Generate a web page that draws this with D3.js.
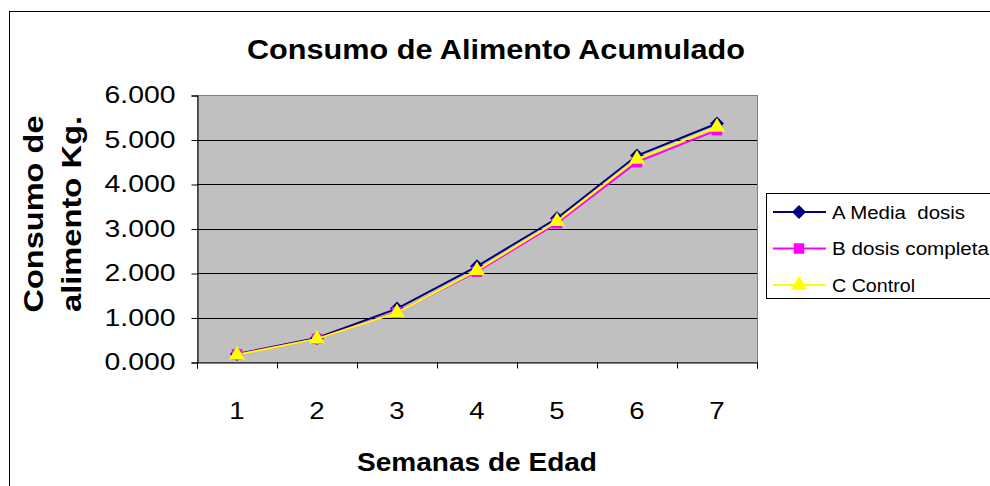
<!DOCTYPE html>
<html>
<head>
<meta charset="utf-8">
<script src="https://cdn.jsdelivr.net/npm/d3@7"></script>
<style>
  html, body { margin: 0; padding: 0; background: #fff; }
  svg { display: block; font-family: "Liberation Sans", Arial, sans-serif; }
  text { white-space: pre; }
</style>
</head>
<body>
<svg id="chart" width="990" height="486"></svg>
<script>
// weeks of age and accumulated feed (kg) per treatment
const weeks = [1, 2, 3, 4, 5, 6, 7];
const mediaDosis = [0.18, 0.54, 1.20, 2.15, 3.23, 4.64, 5.36];
const dosisCompleta = [0.17, 0.52, 1.12, 2.03, 3.12, 4.49, 5.21];
const control = [0.16, 0.52, 1.11, 2.06, 3.16, 4.56, 5.28];
const seriesNames = ["A Media  dosis", "B dosis completa", "C Control"];
const yTicks = [0, 1, 2, 3, 4, 5, 6];

const MARGIN = { LEFT: 197, RIGHT: 757, TOP: 95, BOTTOM: 362 };

const series = [
  { name: seriesNames[0], values: mediaDosis, color: "#000080", marker: "diamond" },
  { name: seriesNames[1], values: dosisCompleta, color: "#ff00ff", marker: "square" },
  { name: seriesNames[2], values: control, color: "#ffff00", marker: "triangle" }
];

const svg = d3.select("#chart");

// outer chart border (runs off the right and bottom edges)
svg.append("rect")
  .attr("x", 9.5).attr("y", 11.5)
  .attr("width", 1000).attr("height", 500)
  .attr("fill", "#fff").attr("stroke", "#000");

const x = d3.scaleLinear()
  .domain([0.5, 7.5])
  .range([MARGIN.LEFT, MARGIN.RIGHT]);
const y = d3.scaleLinear()
  .domain([0, 6])
  .range([MARGIN.BOTTOM, MARGIN.TOP]);

// plot area
svg.append("rect")
  .attr("x", MARGIN.LEFT + 0.5).attr("y", MARGIN.TOP + 0.5)
  .attr("width", MARGIN.RIGHT - MARGIN.LEFT).attr("height", MARGIN.BOTTOM - MARGIN.TOP)
  .attr("fill", "#c0c0c0").attr("stroke", "#808080");

svg.append("g")
  .selectAll("line")
  .data(yTicks.filter(d => d > 0 && d < 6))
  .enter()
  .append("line")
  .attr("x1", MARGIN.LEFT).attr("x2", MARGIN.RIGHT)
  .attr("y1", d => Math.round(y(d)) + 0.5).attr("y2", d => Math.round(y(d)) + 0.5)
  .attr("stroke", "#000");

// y axis
const yAxis = svg.append("g")
  .attr("transform", `translate(${MARGIN.LEFT + 0.5},0.5)`)
  .call(d3.axisLeft(y).tickValues(yTicks).tickSize(6).tickPadding(16).tickFormat(d3.format(".3f")));
yAxis.select(".domain").attr("stroke", "#000");
yAxis.selectAll("text")
  .attr("font-size", 23).attr("fill", "#000")
  .attr("font-family", "Liberation Sans, Arial, sans-serif")
  .attr("textLength", 71).attr("lengthAdjust", "spacingAndGlyphs");

// x axis: ticks on category boundaries, labels at centres
const xAxis = svg.append("g")
  .attr("transform", `translate(0,${MARGIN.BOTTOM + 0.5})`)
  .call(d3.axisBottom(x).tickValues(d3.range(0.5, 8, 1)).tickSize(6).tickFormat(""));
xAxis.select(".domain").attr("stroke", "#000");

svg.append("g")
  .selectAll("text")
  .data(weeks)
  .enter()
  .append("text")
  .attr("transform", d => `translate(${x(d)},419) scale(1.2,1)`)
  .attr("text-anchor", "middle")
  .attr("font-size", 23)
  .text(d => d);

// series lines and markers
const line = d3.line()
  .x((d, i) => x(weeks[i]))
  .y(d => y(d));

function markerPath(type) {
  if (type === "diamond") return "M0,-7L7,0L0,7L-7,0Z";
  if (type === "square") return d3.symbol(d3.symbolSquare, 110)();
  return d3.symbol(d3.symbolTriangle, 110)();
}

series.forEach(s => {
  const g = svg.append("g");
  g.append("path")
    .datum(s.values)
    .attr("d", line)
    .attr("fill", "none")
    .attr("stroke", s.color)
    .attr("stroke-width", 2);
  g.selectAll("path.mark")
    .data(s.values)
    .enter()
    .append("path")
    .attr("class", "mark")
    .attr("d", markerPath(s.marker))
    .attr("transform", (d, i) => `translate(${x(weeks[i])},${y(d)})`)
    .attr("fill", s.color);
});

// title
svg.append("text")
  .attr("x", 496).attr("y", 59)
  .attr("text-anchor", "middle")
  .attr("font-size", 27).attr("font-weight", "bold")
  .attr("textLength", 498).attr("lengthAdjust", "spacingAndGlyphs")
  .text("Consumo de Alimento Acumulado");

// axis titles
svg.append("text")
  .attr("x", 477).attr("y", 471)
  .attr("text-anchor", "middle")
  .attr("font-size", 26).attr("font-weight", "bold")
  .attr("textLength", 240).attr("lengthAdjust", "spacingAndGlyphs")
  .text("Semanas de Edad");

const yTitle = [["Consumo de", 43, 197], ["alimento Kg.", 81, 196]];
yTitle.forEach(([t, bx, len]) => {
  svg.append("text")
    .attr("transform", `translate(${bx},214) rotate(-90)`)
    .attr("text-anchor", "middle")
    .attr("font-size", 27).attr("font-weight", "bold")
    .attr("textLength", len).attr("lengthAdjust", "spacingAndGlyphs")
    .text(t);
});

// legend
const legend = svg.append("g");
legend.append("rect")
  .attr("x", 766.5).attr("y", 193.5)
  .attr("width", 260).attr("height", 105)
  .attr("fill", "#fff").attr("stroke", "#000");

const legendLens = [133, 157, 83];
const legendItems = legend.selectAll("g.item")
  .data(series)
  .enter()
  .append("g")
  .attr("class", "item")
  .attr("transform", (d, i) => `translate(0,${212 + i * 36.5})`);
legendItems.append("line")
  .attr("x1", 773).attr("x2", 826)
  .attr("stroke", d => d.color).attr("stroke-width", 2);
legendItems.append("path")
  .attr("d", d => markerPath(d.marker))
  .attr("transform", "translate(799,0)")
  .attr("fill", d => d.color);
legendItems.append("text")
  .attr("x", 832).attr("y", 6.5)
  .attr("font-size", 18)
  .attr("textLength", (d, i) => legendLens[i]).attr("lengthAdjust", "spacingAndGlyphs")
  .text(d => d.name);
</script>
</body>
</html>
